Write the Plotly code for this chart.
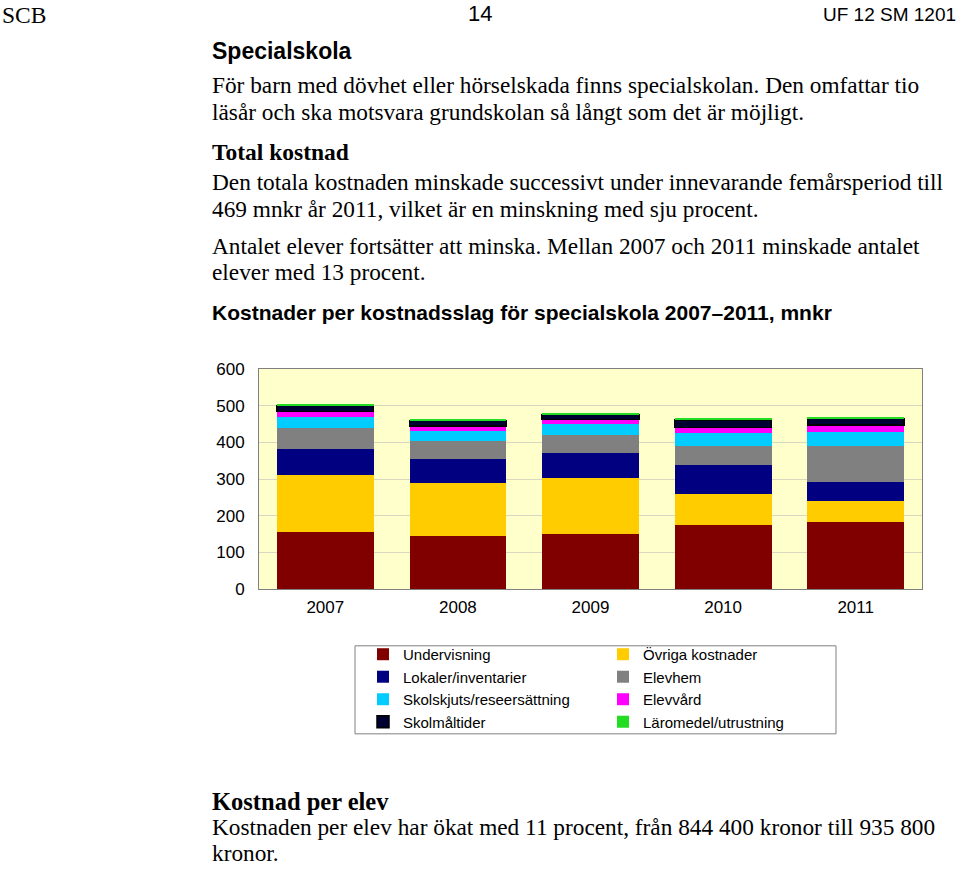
import plotly.graph_objects as go

W, H = 960, 871

years = ["2007", "2008", "2009", "2010", "2011"]

undervisning = [155, 145, 150, 175, 183]
ovriga = [156, 145, 152, 85, 56]
lokaler = [71, 64, 68, 77, 53]
elevhem = [57, 50, 51, 53, 98]
skolskjuts = [31, 28, 29, 35, 38]
elevvard = [14, 12, 12, 16, 19]
skolmaltider = [16, 16, 14, 20, 18]
laromedel = [4, 4, 5, 4, 4]

series = [
    ("Undervisning", undervisning, "#800000", "legend"),
    ("Övriga kostnader", ovriga, "#FFCC00", "legend2"),
    ("Lokaler/inventarier", lokaler, "#000080", "legend"),
    ("Elevhem", elevhem, "#808080", "legend2"),
    ("Skolskjuts/reseersättning", skolskjuts, "#00CCFF", "legend"),
    ("Elevvård", elevvard, "#FF00FF", "legend2"),
    ("Skolmåltider", skolmaltider, "#000033", "legend"),
    ("Läromedel/utrustning", laromedel, "#22DD22", "legend2"),
]

fig = go.Figure()
for name, vals, col, leg in series:
    lw = 1.5 if name == "Skolmåltider" else 0
    fig.add_trace(go.Bar(
        x=years, y=vals, name=name, legend=leg,
        marker=dict(color=col, line=dict(color="#000000", width=lw)),
    ))


def px(x):
    return x / W


def py(y):
    return 1 - y / H


SERIF = "Liberation Serif"
SANS = "Liberation Sans"

texts = [
    ("SCB", 0, 6, "left", SERIF, 23.5, False),
    ("14", 480, 5, "center", SANS, 22, False),
    ("UF 12 SM 1201", 958, 6, "right", SANS, 19, False),
    ("Specialskola", 210, 43, "left", SANS, 23, True),
    ("För barn med dövhet eller hörselskada finns specialskolan. Den omfattar tio", 210, 77.5, "left", SERIF, 23.3, False),
    ("läsår och ska motsvara grundskolan så långt som det är möjligt.", 210, 105, "left", SERIF, 23.3, False),
    ("Total kostnad", 210, 146, "left", SERIF, 23.5, True),
    ("Den totala kostnaden minskade successivt under innevarande femårsperiod till", 210, 177, "left", SERIF, 23.3, False),
    ("469 mnkr år 2011, vilket är en minskning med sju procent.", 210, 204.5, "left", SERIF, 23.3, False),
    ("Antalet elever fortsätter att minska. Mellan 2007 och 2011 minskade antalet", 210, 242, "left", SERIF, 23.3, False),
    ("elever med 13 procent.", 210, 269, "left", SERIF, 23.3, False),
    ("Kostnader per kostnadsslag för specialskola 2007–2011, mnkr", 210, 310, "left", SANS, 21, True),
    ("Kostnad per elev", 210, 810, "left", SERIF, 24.5, True),
    ("Kostnaden per elev har ökat med 11 procent, från 844 400 kronor till 935 800", 210, 836.5, "left", SERIF, 23.3, False),
    ("kronor.", 210, 863, "left", SERIF, 23.3, False),
]

annotations = []
for t, x, y, anc, fam, size, bold in texts:
    annotations.append(dict(
        text=f"<b>{t}</b>" if bold else t,
        x=px(x), y=py(y), xref="paper", yref="paper",
        xanchor=anc, yanchor="middle", showarrow=False,
        font=dict(family=fam, size=size, color="#000000"),
    ))

fig.update_layout(
    width=W, height=H,
    margin=dict(l=0, r=0, t=0, b=0),
    paper_bgcolor="#FFFFFF",
    plot_bgcolor="#FFFFCC",
    barmode="stack",
    bargap=0.27,
    font=dict(family=SANS, size=17, color="#000000"),
    annotations=annotations,
    xaxis=dict(
        domain=[px(259), px(922)],
        showline=True, mirror=True, linecolor="#808080", linewidth=1,
        showgrid=False, ticks="", tickfont=dict(size=17),
        ticklabelstandoff=3,
        fixedrange=True,
    ),
    yaxis=dict(
        domain=[py(593), py(368)],
        range=[0, 600], dtick=100,
        showline=True, mirror=True, linecolor="#808080", linewidth=1,
        showgrid=True, gridcolor="#D8D8C0", gridwidth=1,
        zeroline=False, ticks="", tickfont=dict(size=17),
        ticklabelstandoff=10,
        fixedrange=True,
    ),
    legend=dict(
        x=px(363), y=py(643), xanchor="left", yanchor="top",
        orientation="v", traceorder="normal",
        font=dict(family=SANS, size=15, color="#000000"),
        bgcolor="rgba(0,0,0,0)", borderwidth=0,
    ),
    legend2=dict(
        x=px(603), y=py(643), xanchor="left", yanchor="top",
        orientation="v", traceorder="normal",
        font=dict(family=SANS, size=15, color="#000000"),
        bgcolor="rgba(0,0,0,0)", borderwidth=0,
    ),
    shapes=[dict(
        type="rect", xref="paper", yref="paper",
        x0=px(355), x1=px(836), y0=py(741), y1=py(651),
        line=dict(color="#808080", width=1), fillcolor="rgba(0,0,0,0)",
    )],
)

post = (
    "var de=document.documentElement,b=document.body;"
    "de.style.margin='0';de.style.padding='0';de.style.overflow='hidden';"
    "b.style.margin='0';b.style.padding='0';b.style.overflow='hidden';"
    "var g=document.getElementById('{plot_id}');"
    "g.style.position='fixed';g.style.top='0px';g.style.left='0px';"
)

fig.write_html(
    "out.html",
    config={"displayModeBar": False},
    post_script=post,
)
